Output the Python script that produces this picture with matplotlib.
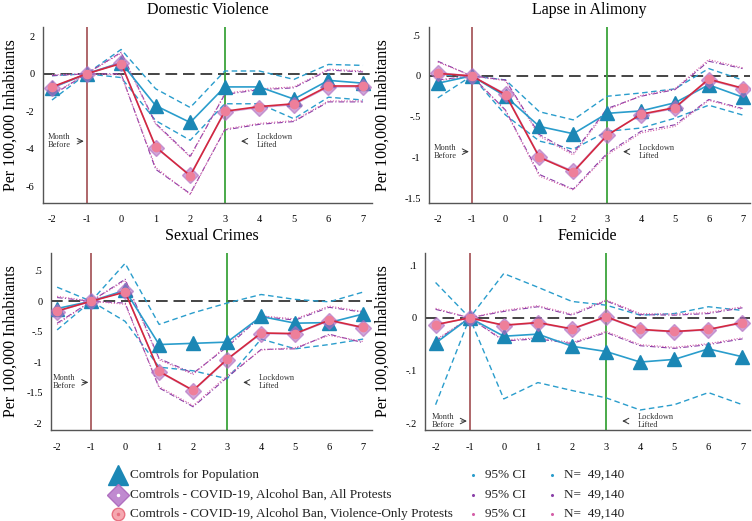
import matplotlib
matplotlib.use("Agg")
import matplotlib.pyplot as plt
import numpy as np

plt.rcParams['font.family'] = ['Liberation Serif', 'DejaVu Serif']

months = [-2, -1, 0, 1, 2, 3, 4, 5, 6, 7]

# ---------------- Domestic Violence ----------------
dv_pop = [-0.75, 0, 0.6, -1.7, -2.6, -0.7, -0.7, -1.35, -0.35, -0.5]
dv_pop_hi = [-0.1, 0, 1.3, -0.8, -1.8, 0.15, 0.15, -0.3, 0.5, 0.45]
dv_pop_lo = [-1.4, 0, -0.2, -2.5, -3.55, -1.6, -1.6, -2.4, -1.25, -1.4]
dv_all = [-0.75, 0, 0.6, -3.95, -5.4, -2.05, -1.8, -1.65, -0.7, -0.7]
dv_all_hi = [-0.1, 0, 1.15, -2.65, -4.4, -1.1, -0.85, -0.75, 0.2, 0.1]
dv_all_lo = [-1.15, 0, 0.0, -5.1, -6.4, -3.0, -2.7, -2.55, -1.5, -1.5]
dv_vio = [-0.7, 0, 0.55, -3.9, -5.45, -2.0, -1.75, -1.6, -0.65, -0.65]
dv_vio_hi = [-0.05, 0, 1.1, -2.7, -4.45, -1.05, -0.8, -0.7, 0.25, 0.15]
dv_vio_lo = [-1.1, 0, -0.05, -5.0, -6.45, -2.95, -2.65, -2.5, -1.45, -1.45]

# ---------------- Lapse in Alimony ----------------
la_pop = [-0.09, 0, -0.25, -0.62, -0.71, -0.46, -0.43, -0.33, -0.11, -0.26]
la_pop_hi = [0.01, 0, -0.05, -0.44, -0.54, -0.25, -0.21, -0.16, 0.09, -0.05]
la_pop_lo = [-0.27, 0, -0.48, -0.8, -0.9, -0.68, -0.64, -0.52, -0.36, -0.48]
la_all = [0.04, 0, -0.22, -0.99, -1.17, -0.72, -0.48, -0.4, -0.05, -0.16]
la_all_hi = [0.18, 0, -0.05, -0.72, -0.95, -0.4, -0.25, -0.17, 0.18, 0.09]
la_all_lo = [-0.05, 0, -0.42, -1.21, -1.39, -0.95, -0.68, -0.6, -0.29, -0.4]
la_vio = [0.03, 0, -0.23, -1.0, -1.18, -0.73, -0.47, -0.39, -0.04, -0.15]
la_vio_hi = [0.17, 0, -0.06, -0.74, -0.97, -0.42, -0.24, -0.16, 0.2, 0.1]
la_vio_lo = [-0.06, 0, -0.43, -1.23, -1.4, -0.97, -0.7, -0.62, -0.3, -0.41]

# ---------------- Sexual Crimes ----------------
sc_pop = [-0.12, 0, 0.18, -0.71, -0.69, -0.67, -0.25, -0.36, -0.35, -0.21]
sc_pop_hi = [0.23, 0, 0.62, -0.38, -0.19, -0.03, 0.11, 0.03, -0.01, 0.15]
sc_pop_lo = [-0.47, 0, -0.33, -1.08, -1.14, -1.27, -0.62, -0.78, -0.71, -0.62]
sc_all = [-0.17, 0, 0.16, -1.16, -1.47, -0.96, -0.53, -0.54, -0.32, -0.44]
sc_all_hi = [0.06, 0, 0.36, -0.94, -1.18, -0.75, -0.25, -0.31, -0.1, -0.18]
sc_all_lo = [-0.36, 0, -0.03, -1.42, -1.73, -1.25, -0.79, -0.78, -0.54, -0.68]
sc_vio = [-0.16, 0, 0.15, -1.15, -1.46, -0.95, -0.52, -0.53, -0.31, -0.43]
sc_vio_hi = [0.08, 0, 0.34, -0.96, -1.2, -0.72, -0.24, -0.29, -0.08, -0.17]
sc_vio_lo = [-0.38, 0, -0.05, -1.4, -1.71, -1.22, -0.8, -0.76, -0.56, -0.66]

# ---------------- Femicide ----------------
fe_pop = [-0.048, 0, -0.035, -0.031, -0.054, -0.064, -0.084, -0.079, -0.059, -0.074]
fe_pop_hi = [0.067, 0, 0.084, 0.058, 0.031, 0.024, 0.005, 0.008, 0.021, 0.014]
fe_pop_lo = [-0.165, 0, -0.154, -0.123, -0.138, -0.152, -0.175, -0.165, -0.142, -0.165]
fe_all = [-0.014, 0, -0.015, -0.01, -0.022, 0.001, -0.023, -0.027, -0.023, -0.01]
fe_all_hi = [0.016, 0, 0.012, 0.021, 0.005, 0.032, 0.006, 0.005, 0.008, 0.019]
fe_all_lo = [-0.044, 0, -0.044, -0.04, -0.049, -0.028, -0.053, -0.058, -0.051, -0.04]
fe_vio = [-0.013, 0, -0.014, -0.009, -0.021, 0.002, -0.022, -0.026, -0.022, -0.009]
fe_vio_hi = [0.018, 0, 0.014, 0.023, 0.007, 0.034, 0.008, 0.007, 0.01, 0.021]
fe_vio_lo = [-0.042, 0, -0.042, -0.038, -0.047, -0.026, -0.051, -0.056, -0.049, -0.038]

titles = ["Domestic Violence", "Lapse in Alimony", "Sexual Crimes", "Femicide"]
yticks = [[2, 0, -2, -4, -6], [0.5, 0, -0.5, -1, -1.5],
          [0.5, 0, -0.5, -1, -1.5, -2], [0.1, 0, -0.1, -0.2]]
yticklabels = [["2", "0", "-2", "-4", "-6"], [".5", "0", "-.5", "-1", "-1.5"],
               [".5", "0", "-.5", "-1", "-1.5", "-2"], [".1", "0", "-.1", "-.2"]]
legend_labels = ["Comtrols for Population",
                 "Comtrols - COVID-19, Alcohol Ban, All Protests",
                 "Comtrols - COVID-19, Alcohol Ban, Violence-Only Protests"]
ci_label = "95% CI"
n_label = "N=  49,140"
ann_before = "Month\nBefore"
ann_lifted = "Lockdown\nLifted"

panels = [
    (dv_pop, dv_pop_hi, dv_pop_lo, dv_all, dv_all_hi, dv_all_lo, dv_vio, dv_vio_hi, dv_vio_lo),
    (la_pop, la_pop_hi, la_pop_lo, la_all, la_all_hi, la_all_lo, la_vio, la_vio_hi, la_vio_lo),
    (sc_pop, sc_pop_hi, sc_pop_lo, sc_all, sc_all_hi, sc_all_lo, sc_vio, sc_vio_hi, sc_vio_lo),
    (fe_pop, fe_pop_hi, fe_pop_lo, fe_all, fe_all_hi, fe_all_lo, fe_vio, fe_vio_hi, fe_vio_lo),
]

W, H = 752, 521
fig = plt.figure(figsize=(W / 100, H / 100), dpi=100)

# axes boxes in pixels: left, right, top, bottom
boxes = [(43, 372, 27, 203), (429, 750, 27, 203), (51, 372, 253, 430), (425, 750, 253, 430)]
xlims = [(-2.26, 7.26), (-2.26, 7.22), (-2.18, 7.26), (-2.31, 7.22)]
ylims = [(-6.9, 2.5), (-1.56, 0.6), (-2.11, 0.79), (-0.213, 0.123)]
ann_y = [-3.6, -0.93, -1.33, -0.196]
ylabel_x_px = [19, 391, 19, 391]

BLUE = "#1b87b5"
BLUE_L = "#2a9dcc"
RED = "#d3283f"
PURPLE = "#b06bc0"
PINK = "#ee7f9a"
VL1 = "#a85a5e"
VL2 = "#3aa43a"

for i, (box, data) in enumerate(zip(boxes, panels)):
    l, r, t, b = box
    ax = fig.add_axes([l / W, 1 - b / H, (r - l) / W, (b - t) / H])
    pop, pop_hi, pop_lo, al, al_hi, al_lo, vi, vi_hi, vi_lo = data
    ax.set_xlim(*xlims[i])
    ax.set_ylim(*ylims[i])
    ax.axhline(0, color="#444444", lw=1.4, ls=(0, (6, 3)), zorder=1)
    ax.axvline(-1, color=VL1, lw=1.3, zorder=2)
    ax.axvline(3, color=VL2, lw=1.3, zorder=2)
    # CIs
    ax.plot(months, pop_hi, color=BLUE_L, lw=1.0, ls=(0, (4, 2.5)), zorder=3)
    ax.plot(months, pop_lo, color=BLUE_L, lw=1.0, ls=(0, (4, 2.5)), zorder=3)
    ax.plot(months, al_hi, color="#8a3fa8", lw=0.8, ls=(0, (5, 2, 1, 2)), zorder=3)
    ax.plot(months, al_lo, color="#8a3fa8", lw=0.8, ls=(0, (5, 2, 1, 2)), zorder=3)
    ax.plot(months, vi_hi, color="#d45fa8", lw=0.8, ls=(0, (1, 1.5)), zorder=3)
    ax.plot(months, vi_lo, color="#d45fa8", lw=0.8, ls=(0, (1, 1.5)), zorder=3)
    # point estimates
    ax.plot(months, pop, color=BLUE_L, lw=1.2, marker="^", ms=9.5,
            mfc=BLUE, mec=BLUE, zorder=5)
    ax.plot(months, al, color=PURPLE, lw=1.0, marker="D", ms=8.5,
            mfc=PURPLE, mec=PURPLE, alpha=0.6, zorder=6)
    ax.plot(months, vi, color=RED, lw=1.2, marker="o", ms=6,
            mfc=PINK, mec=PINK, zorder=7)
    for sp in ["top", "right"]:
        ax.spines[sp].set_visible(False)
    for sp in ["left", "bottom"]:
        ax.spines[sp].set_color("#555555")
        ax.spines[sp].set_linewidth(1.0)
    ax.set_xticks(months)
    ax.set_xticklabels([str(m) for m in months], fontsize=7.5)
    ax.set_yticks(yticks[i])
    ax.set_yticklabels(yticklabels[i], fontsize=7.5)
    ax.tick_params(axis="both", length=0)
    ax.tick_params(axis="y", pad=6)
    ax.tick_params(axis="x", pad=9)
    ax.set_ylabel("Per 100,000 Inhabitants", fontsize=11.5)
    ax.yaxis.set_label_coords((ylabel_x_px[i] - l) / (r - l), 0.5)
    ax.set_title(titles[i], fontsize=11.5, pad=9)
    # annotations
    ya = ann_y[i]
    ax.annotate("", xy=(-1, ya), xytext=(-1.33, ya),
                arrowprops=dict(arrowstyle="->", lw=0.7, color="#333333"))
    ax.text(-2.12, ya, ann_before, fontsize=6, va="center", ha="left",
            linespacing=1.0, color="#333333")
    ax.annotate("", xy=(3.39, ya), xytext=(3.67, ya),
                arrowprops=dict(arrowstyle="->", lw=0.7, color="#333333"))
    ax.text(3.93, ya, ann_lifted, fontsize=6, va="center", ha="left",
            linespacing=1.0, color="#333333")

# legend area
lax = fig.add_axes([0, 0, 1, 60 / H])
lax.set_xlim(0, W)
lax.set_ylim(60, 0)
lax.axis("off")
rows = [14, 34, 53]
lax.plot([118], [rows[0]], marker="^", ms=14, mfc=BLUE, mec=BLUE, ls="none")
lax.plot([118], [rows[1]], marker="D", ms=11, mfc="#c08ad0", mec="#b070c0", ls="none")
lax.plot([118], [rows[1]], marker="o", ms=1.5, mfc="white", mec="white", ls="none")
lax.plot([118], [rows[2]], marker="o", ms=9, mfc="#f5a8b0", mec="#e87080", ls="none")
lax.plot([118], [rows[2]], marker="o", ms=1.5, mfc="#e87080", mec="#e87080", ls="none")
ci_colors = [BLUE_L, "#8a3fa8", "#d45fa8"]
for k, y in enumerate(rows):
    lax.text(130, y, legend_labels[k], fontsize=9.5, va="center", ha="left", color="#222222")
    lax.plot([473], [y], marker="o", ms=1.2, color=ci_colors[k], ls="none")
    lax.text(485, y, ci_label, fontsize=9.5, va="center", ha="left", color="#222222")
    lax.plot([552], [y], marker="o", ms=1.2, color=ci_colors[k], ls="none")
    lax.text(564, y, n_label, fontsize=9.5, va="center", ha="left", color="#222222")

fig.savefig("out.png", dpi=100)
